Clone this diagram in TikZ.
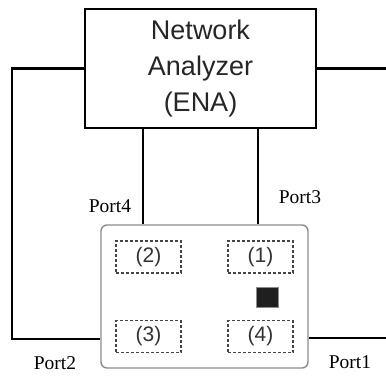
\documentclass[tikz,border=0pt]{standalone}
\usepackage{fontspec}
\setmainfont{Liberation Serif}
\newfontfamily\enafont{Liberation Sans}
\usetikzlibrary{positioning}
\definecolor{devgray}{HTML}{8C8C8C}
\definecolor{padgray}{HTML}{444444}
\begin{document}
\begin{tikzpicture}[x=1pt, y=-1pt,
		wire/.style = {line width = 2.2pt},
		padbox/.style = {draw = padgray, dash pattern = on 3pt off 2pt, line width = 1.4pt, minimum width = 65pt, minimum height = 32pt, inner sep = 0pt, font = \enafont\fontsize{21}{21}\selectfont, text = black!80},
		porttxt/.style = {font = \fontsize{19.5}{19.5}\selectfont, inner sep = 0pt}]
		\useasboundingbox (0, 0) rectangle (386, 376);
		% Analysator
		\node [draw, wire, minimum width = 231pt, minimum height = 119pt, align = center, font = \enafont\fontsize{27}{36}\selectfont, text = black!85] (ena) at (200.5, 68.5) {Network\\Analyzer\\(ENA)};
		% Messobjekt
		\node [draw = devgray, line width = 1.4pt, rounded corners = 6pt, minimum width = 207pt, minimum height = 143pt] (dev) at (204.5, 296.5) {};
		\node [padbox] (pad2) at (148.5, 257) {(2)};
		\node [padbox] (pad1) at (260.5, 257) {(1)};
		\node [padbox] (pad3) at (148.5, 336.5) {(3)};
		\node [padbox] (pad4) at (260.5, 336.5) {(4)};
		\node [draw = devgray, fill = black!88, line width = 0.8pt, minimum width = 22pt, minimum height = 20pt, inner sep = 0pt] (mark) at (267, 297) {};
		% Leitungen
		\coordinate (bendL) at (12, 339);
		\coordinate (endR) at (386, 70);
		\coordinate (endRb) at (386, 338);
		\coordinate (tap4) at (143, 128);
		\coordinate (tap3) at (258, 128);
		\draw [wire] (ena.west) -| (bendL) -- (dev.west |- bendL);
		\draw [wire] (ena.east) -- (ena.east -| endR);
		\draw [wire] (dev.east |- endRb) -- (endRb);
		\draw [wire] (tap4) -- (tap4 |- dev.north);
		\draw [wire] (tap3) -- (tap3 |- dev.north);
		% Beschriftung
		\node [porttxt] (lbl4) at (110, 206) {Port4};
		\node [porttxt] (lbl3) at (300, 197) {Port3};
		\node [porttxt] (lbl2) at (55, 363) {Port2};
		\node [porttxt] (lbl1) at (350, 362) {Port1};
	\end{tikzpicture}
\end{document}
